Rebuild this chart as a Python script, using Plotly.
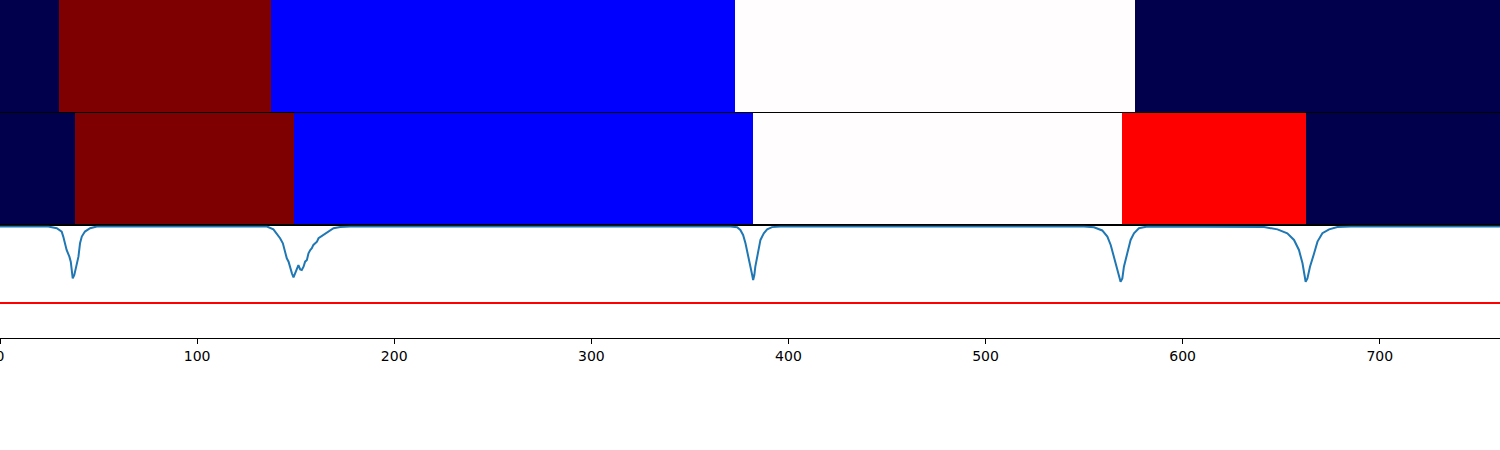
import plotly.graph_objects as go
from plotly.subplots import make_subplots

# segment labels (0 navy, 1 blue, 2 white, 3 red, 4 dark red)
top_edges = [0, 30, 137.7, 372.8, 576, 761]
top_labels = [0, 4, 1, 2, 0]
mid_edges = [0, 38, 149, 382.2, 569.3, 662.4, 761]
mid_labels = [0, 4, 1, 2, 3, 0]

# signal curve
sig_x = [0, 24.5, 28.8, 31.3, 32.1, 33.0, 33.8, 35.2, 35.9, 36.4, 36.9, 37.7, 38.6, 39.8,
         40.6, 41.5, 43.1, 45.7, 49.1,
         135.4, 138.7, 140.4, 142.1, 143.5, 144.7, 145.5, 146.4, 147.2, 148.1, 148.9,
         149.7, 150.6, 151.4, 152.3, 153.1, 154.0, 154.8, 155.7, 156.5, 157.4, 158.2,
         159.0, 160.8, 161.6, 163.3, 165.0, 166.7, 169.2, 172.6, 177.7,
         370.6, 374.0, 375.6, 377.0, 378.2, 379.0, 379.9, 380.7, 381.6, 382.1, 382.7,
         383.2, 384.1, 384.9, 385.8, 387.5, 389.2, 391.7, 396.0,
         549.9, 555.0, 559.2, 561.8, 563.5, 565.1, 566.8, 567.7, 568.5, 569.4, 570.2,
         571.9, 573.6, 575.3, 577.8, 582.1,
         634.5, 641.3, 648.1, 653.1, 656.5, 659.0, 660.8, 661.9, 662.4, 663.3, 664.6,
         666.7, 668.4, 670.9, 674.3, 678.5, 685.3, 761]
sig_y = [0, 0, -0.015, -0.045, -0.09, -0.15, -0.21, -0.27, -0.315, -0.39, -0.465, -0.435,
         -0.36, -0.27, -0.15, -0.09, -0.045, -0.015, 0,
         0, -0.025, -0.06, -0.105, -0.15, -0.225, -0.285, -0.315, -0.375, -0.42, -0.455,
         -0.42, -0.375, -0.345, -0.385, -0.39, -0.36, -0.315, -0.30, -0.24, -0.21, -0.195,
         -0.165, -0.135, -0.105, -0.085, -0.066, -0.045, -0.015, -0.005, 0,
         0, -0.006, -0.03, -0.075, -0.15, -0.225, -0.30, -0.375, -0.435, -0.48, -0.435,
         -0.36, -0.27, -0.195, -0.12, -0.06, -0.025, -0.005, 0,
         0, -0.006, -0.035, -0.09, -0.165, -0.27, -0.39, -0.465, -0.495, -0.465, -0.36,
         -0.24, -0.12, -0.06, -0.015, 0,
         0, -0.005, -0.025, -0.06, -0.12, -0.21, -0.33, -0.465, -0.495, -0.465, -0.36,
         -0.24, -0.135, -0.06, -0.025, -0.005, 0, 0]
threshold = -0.686

seismic = [[0, "#00004c"], [0.25, "#0000ff"], [0.5, "#fffdfd"],
           [0.75, "#ff0000"], [1, "#7f0000"]]

fig = make_subplots(rows=3, cols=1, shared_xaxes=True, vertical_spacing=0)

fig.add_trace(go.Heatmap(z=[top_labels], x=top_edges, zmin=0, zmax=4,
                         colorscale=seismic, showscale=False), row=1, col=1)
fig.add_trace(go.Heatmap(z=[mid_labels], x=mid_edges, zmin=0, zmax=4,
                         colorscale=seismic, showscale=False), row=2, col=1)
fig.add_trace(go.Scatter(x=sig_x, y=sig_y, mode="lines",
                         line=dict(color="#1f77b4", width=2)), row=3, col=1)
fig.add_trace(go.Scatter(x=[0, 761], y=[threshold, threshold], mode="lines",
                         line=dict(color="#ff0000", width=2)), row=3, col=1)

ax = dict(showgrid=False, zeroline=False, showline=True, linecolor="black",
          linewidth=1, mirror=True, automargin=False)
for i in (1, 2, 3):
    fig.update_xaxes(ax, range=[0, 761], showticklabels=False, ticks="", row=i, col=1)
    fig.update_yaxes(ax, showticklabels=False, ticks="", row=i, col=1)

fig.update_yaxes(range=[-1.0, 0.01], row=3, col=1)
fig.update_xaxes(showticklabels=True, ticks="outside", ticklen=5, tickcolor="black",
                 tickvals=[0, 100, 200, 300, 400, 500, 600, 700],
                 ticklabeloverflow="allow",
                 tickfont=dict(family="DejaVu Sans", size=14, color="black"),
                 row=3, col=1)

fig.update_layout(
    width=1500, height=450,
    margin=dict(l=0, r=0, t=0, b=112),
    plot_bgcolor="white", paper_bgcolor="white",
    showlegend=False,
    yaxis=dict(domain=[0.667, 1.0]),
    yaxis2=dict(domain=[0.334, 0.666]),
    yaxis3=dict(domain=[0.0, 0.333]),
)

fig.write_html("out.html", config={"displayModeBar": False},
               post_script="document.body.style.margin='0';")
